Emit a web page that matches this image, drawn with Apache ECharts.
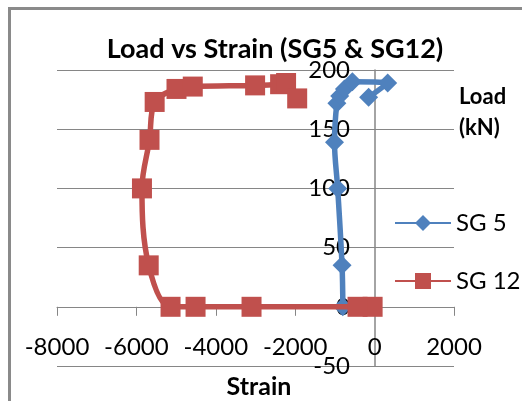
<!DOCTYPE html>
<html>
<head>
<meta charset="utf-8">
<script src="https://cdn.jsdelivr.net/npm/echarts@6/dist/echarts.min.js"></script>
<style>
html,body{margin:0;padding:0;background:#fff;}
#chart{width:522px;height:401px;}
</style>
</head>
<body>
<div id="chart"></div>
<script>
// Data
var sg5Strain = [-800, -820, -930, -1010, -950, -880, -760, -560, 330, -150];
var sg5Load   = [0, 35, 100, 139, 172, 178, 184, 190, 189, 177];
var sg12Strain = [-50, -430, -3100, -4510, -5140, -5690, -5860, -5670, -5540, -4990, -4580, -3010, -2380, -2230, -1950];
var sg12Load   = [0, 0, 0, 0, 0, 35, 100, 141, 173, 184, 186, 187, 188, 189, 176];
var xTicks = [-8000, -6000, -4000, -2000, 0, 2000];
var yTicks = [-50, 0, 50, 100, 150, 200];

function pairs(xs, ys) { return xs.map(function (x, i) { return [x, ys[i]]; }); }

var FONT = 'Lato';
var GRID = '#868686';
var chart = echarts.init(document.getElementById('chart'));
chart.setOption({
  backgroundColor: '#ffffff',
  animation: false,
  graphic: [{
    type: 'rect', silent: true,
    shape: { x: 9.5, y: 8.5, width: 700, height: 600 },
    style: { fill: 'none', stroke: '#8a8a8a', lineWidth: 3 }
  }],
  title: [
    { text: 'Load vs Strain (SG5 & SG12)', left: 275, top: 36, textAlign: 'center', padding: 0,
      textStyle: { fontFamily: FONT, fontSize: 27, fontWeight: 'bold', color: '#000' } },
    { text: 'Load\n(kN)', left: 459, top: 81, padding: 0,
      textStyle: { fontFamily: FONT, fontSize: 22, fontWeight: 'bold', color: '#000', lineHeight: 31 } },
    { text: 'Strain', left: 259, top: 374, textAlign: 'center', padding: 0,
      textStyle: { fontFamily: FONT, fontSize: 25, fontWeight: 'bold', color: '#000' } }
  ],
  legend: {
    orient: 'vertical', left: 394, top: 211, itemWidth: 56, itemHeight: 20, itemGap: 34, padding: 0,
    textStyle: { fontFamily: FONT, fontSize: 24, color: '#000' },
    data: ['SG 5', 'SG 12']
  },
  grid: { left: 57, right: 68, top: 70, bottom: 35, containLabel: false, outerBoundsMode: 'none' },
  xAxis: [{
    type: 'value', min: -8000, max: 2000, interval: 2000,
    axisLine: { onZero: true, lineStyle: { color: GRID, width: 1 } },
    axisTick: { show: true, length: 9, lineStyle: { color: GRID } },
    axisLabel: { show: false },
    splitLine: { show: false }
  }, {
    type: 'value', min: -8000, max: 2000, interval: 2000, position: 'bottom',
    axisLine: { show: false, onZero: false },
    axisTick: { show: false },
    axisLabel: { inside: true, margin: 7, fontFamily: FONT, fontSize: 24, color: '#000',
      formatter: function (v) { return String(v); } },
    splitLine: { show: false }
  }],
  yAxis: [{
    type: 'value', min: -50, max: 200, interval: 50, position: 'left', offset: -318,
    axisLine: { show: true, onZero: false, lineStyle: { color: GRID, width: 1.5 } },
    axisTick: { show: false },
    axisLabel: { margin: 25, fontFamily: FONT, fontSize: 24, color: '#000',
      formatter: function (v) { return String(v); } },
    splitLine: { show: true, lineStyle: { color: GRID, width: 1 } }
  }],
  series: [{
    name: 'SG 5', type: 'line', xAxisIndex: 0, yAxisIndex: 0,
    data: pairs(sg5Strain, sg5Load),
    smooth: 0.35, symbol: 'diamond', symbolSize: 19,
    lineStyle: { color: '#4F81BD', width: 5.5 },
    itemStyle: { color: '#4F81BD' }, z: 3
  }, {
    name: 'SG 12', type: 'line', xAxisIndex: 0, yAxisIndex: 0,
    data: pairs(sg12Strain, sg12Load),
    smooth: 0.35, symbol: 'rect', symbolSize: 20,
    lineStyle: { color: '#C0504D', width: 5.5 },
    itemStyle: { color: '#C0504D' }, z: 4
  }]
});
</script>
</body>
</html>
